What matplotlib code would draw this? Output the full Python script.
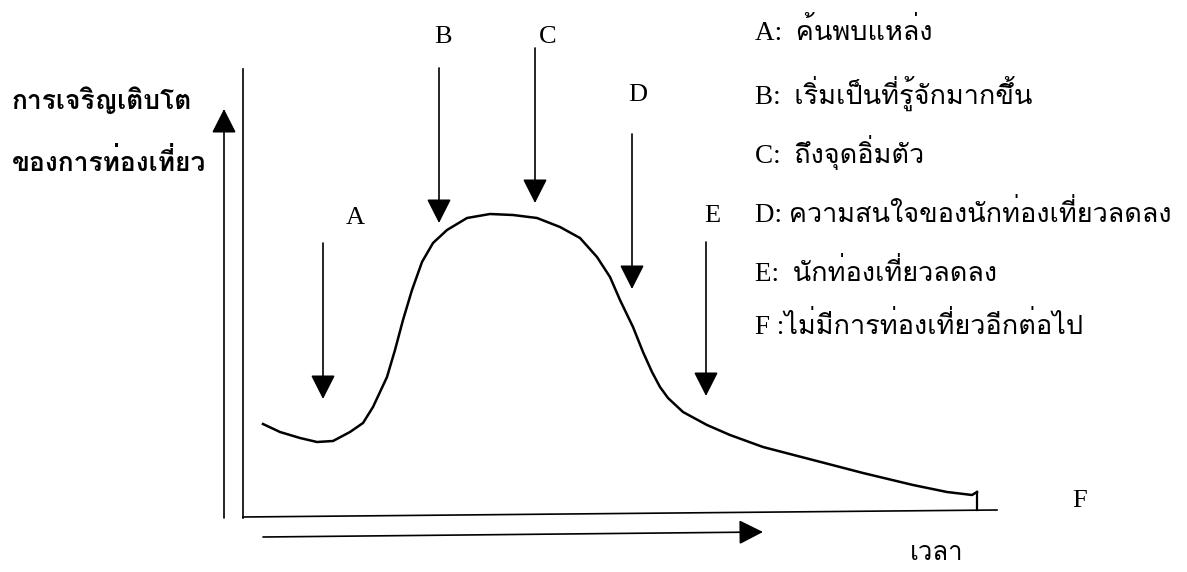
import matplotlib
matplotlib.use("Agg")
import matplotlib.pyplot as plt
from matplotlib import font_manager
from matplotlib.ft2font import FT2Font

# curve of the tourism life cycle (pixel coords of the source picture, y down)
curve_x = [263, 280, 300, 317, 333, 350, 363, 373, 387, 395, 403, 412, 422, 433,
           447, 467, 490, 513, 537, 560, 580, 597, 610, 620, 633, 643, 652, 660,
           668, 683, 707, 730, 763, 813, 863, 913, 947, 972, 977]
curve_y = [424, 432, 438, 442, 441, 432, 423, 407, 377, 350, 320, 290, 262, 243,
           230, 218, 214, 215, 218, 227, 238, 257, 277, 300, 327, 352, 372, 387,
           398, 412, 425, 435, 447, 460, 473, 485, 492, 495, 492]
hook_x = [977, 977]
hook_y = [492, 510]

# stage arrows
stage_labels = ["A", "B", "C", "D", "E"]
arrow_x = [323, 439, 535, 632, 706]
arrow_top = [243, 68, 48, 134, 242]
arrow_tip = [399, 223, 203, 289, 396]
label_x = [355, 443, 548, 638, 712]
label_y = [218, 37, 37, 95, 216]

legend_lines = [
    "A:  ค้นพบแหล่ง",
    "B:  เริ่มเป็นที่รู้จักมากขึ้น",
    "C:  ถึงจุดอิ่มตัว",
    "D: ความสนใจของนักท่องเที่ยวลดลง",
    "E:  นักท่องเที่ยวลดลง",
    "F :ไม่มีการท่องเที่ยวอีกต่อไป",
]
legend_y = [32, 93, 153, 214, 273, 326]

y_title = ["การเจริญเติบโต", "ของการท่องเที่ยว"]
x_title = "เวลา"


def find_thai_font():
    for f in font_manager.fontManager.ttflist:
        try:
            cmap = FT2Font(f.fname).get_charmap()
        except Exception:
            continue
        if 0x0E01 in cmap:
            return f.name
    return "DejaVu Sans"


thai = find_thai_font()
serif = ["Liberation Serif", thai, "DejaVu Sans"]

fig = plt.figure(figsize=(11.87, 5.72), dpi=100)
ax = fig.add_axes([0, 0, 1, 1])
ax.set_xlim(0, 1187)
ax.set_ylim(572, 0)
ax.axis("off")

lw = 1.2
# frame lines
ax.plot([243, 243], [69, 518], color="black", lw=lw)
ax.plot([243, 997], [517, 510], color="black", lw=lw)

arrow_style = dict(arrowstyle="-|>,head_length=0.75,head_width=0.38",
                   mutation_scale=20, color="black", lw=lw,
                   shrinkA=0, shrinkB=0)
# up arrow and time arrow
ax.annotate("", xy=(224, 109), xytext=(224, 518), arrowprops=arrow_style)
ax.annotate("", xy=(763, 532), xytext=(263, 537), arrowprops=arrow_style)

# curve
ax.plot(curve_x, curve_y, color="black", lw=1.8, solid_joinstyle="round")
ax.plot(hook_x, hook_y, color="black", lw=1.6)

for lab, x, top, tip, lx, ly in zip(stage_labels, arrow_x, arrow_top, arrow_tip,
                                    label_x, label_y):
    ax.annotate("", xy=(x, tip), xytext=(x, top), arrowprops=arrow_style)
    ax.text(lx, ly, lab, fontsize=19, family=serif, ha="center", va="center")

ax.text(1080, 501, "F", fontsize=19, family=serif, ha="center", va="center")

for txt, y in zip(legend_lines, legend_y):
    ax.text(755, y, txt, fontsize=19.5, family=serif, ha="left", va="center")

ax.text(12, 100, y_title[0], fontsize=19, family=[thai, "DejaVu Sans"],
        fontweight="bold", ha="left", va="center")
ax.text(12, 162, y_title[1], fontsize=19, family=[thai, "DejaVu Sans"],
        fontweight="bold", ha="left", va="center")
ax.text(937, 553, x_title, fontsize=18.5, family=[thai, "DejaVu Sans"],
        ha="center", va="center")

fig.savefig("out.png", dpi=100)
